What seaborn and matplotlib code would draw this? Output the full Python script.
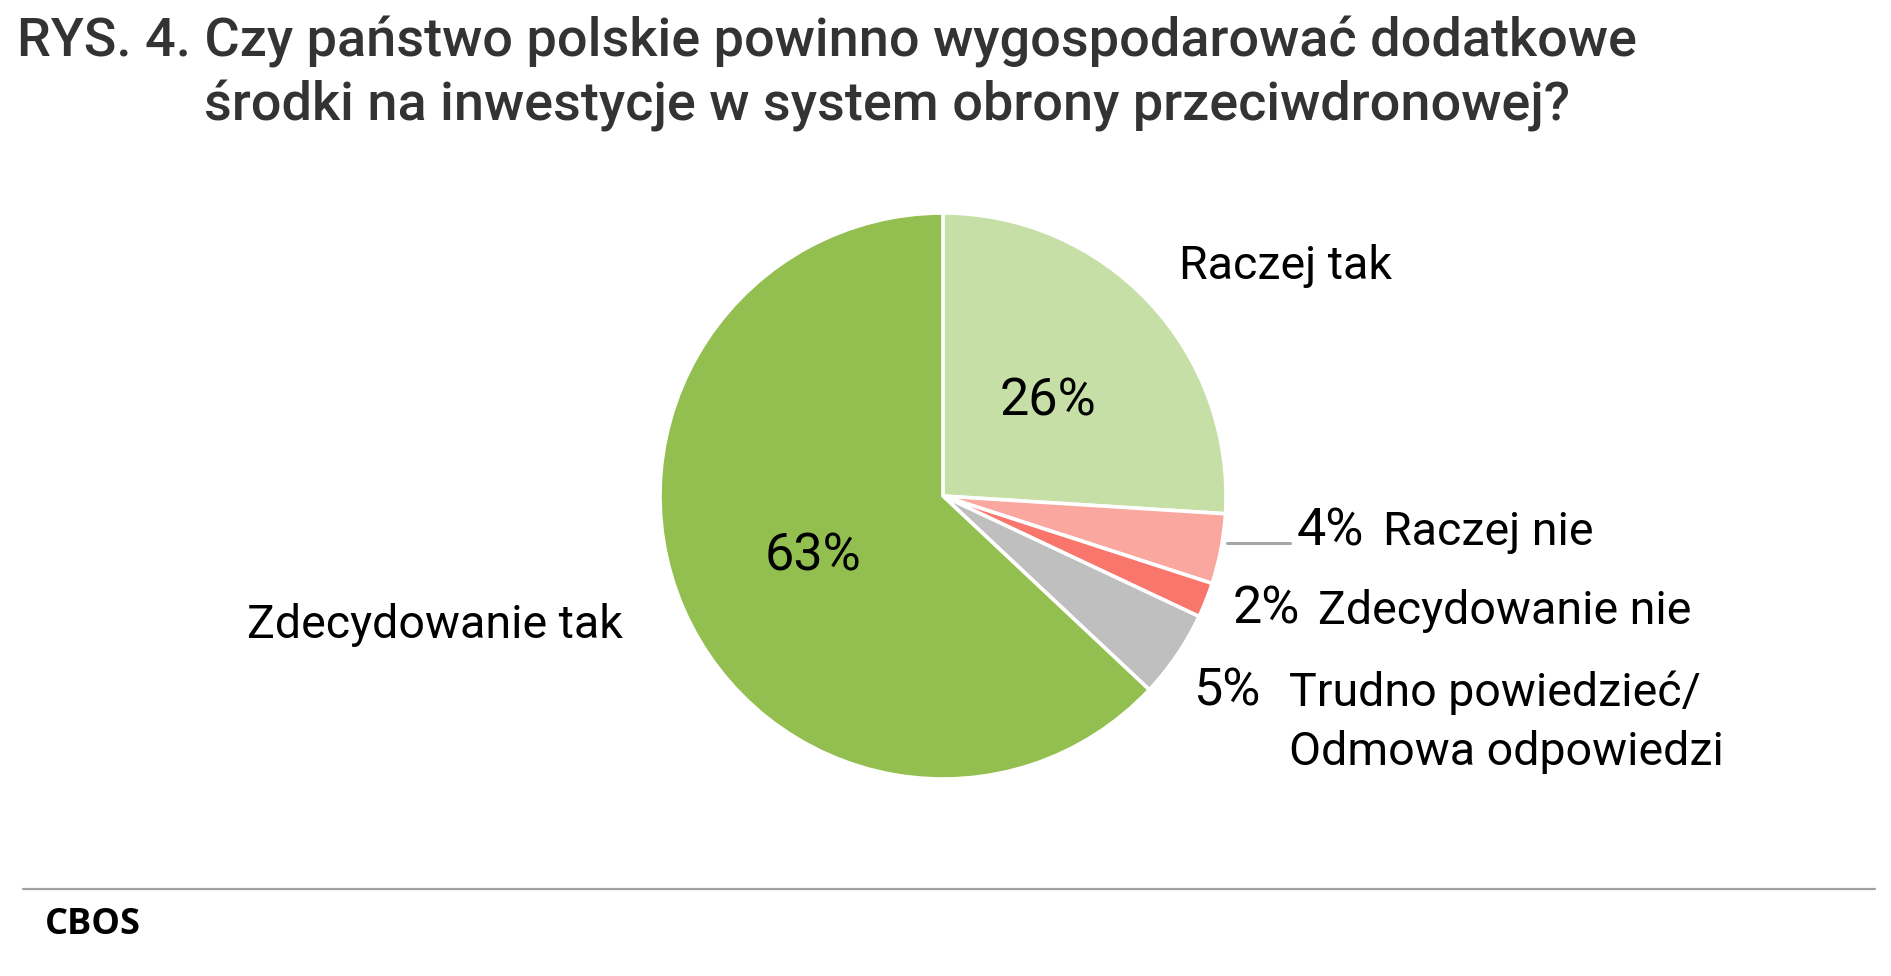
import numpy as np
import matplotlib
matplotlib.use("Agg")
import matplotlib.pyplot as plt
from matplotlib.lines import Line2D
import seaborn as sns

# data (clockwise from 12 o'clock)
categories = ["Raczej tak", "Raczej nie", "Zdecydowanie nie",
              "Trudno powiedzieć/\nOdmowa odpowiedzi", "Zdecydowanie tak"]
values = [26, 4, 2, 5, 63]
colors = ["#C6DFA6", "#FAA7A0", "#F9766C", "#BFBFBF", "#93BF51"]

title_lines = ["RYS. 4. Czy państwo polskie powinno wygospodarować dodatkowe",
               "środki na inwestycje w system obrony przeciwdronowej?"]
source = "CBOS"

W, H = 1891, 976
sns.set_theme(style="white")
plt.rcParams["font.family"] = ["Roboto", "DejaVu Sans"]
plt.rcParams["text.color"] = "black"

fig = plt.figure(figsize=(W / 100, H / 100), dpi=100)


def fx(x):
    return x / W


def fy(y):
    return 1 - y / H


# pie placed by pixel centre / radius
cx, cy, r = 943, 496, 283
ax = fig.add_axes([fx(cx - r), fy(cy + r), 2 * r / W, 2 * r / H])
wedges, _ = ax.pie(values, colors=colors, startangle=90, counterclock=False,
                   radius=1, wedgeprops=dict(edgecolor="white", linewidth=2.6))
ax.set_xlim(-1, 1)
ax.set_ylim(-1, 1)
ax.axis("off")

lab_fs = 33.5
pct_fs = 37.5
# percentages inside the two big slices
for i, dist in ((0, 0.51), (4, 0.5)):
    w = wedges[i]
    th = np.deg2rad((w.theta1 + w.theta2) / 2)
    ax.text(dist * np.cos(th), dist * np.sin(th) - 0.015, f"{values[i]}%",
            ha="center", va="center", fontsize=pct_fs, color="black")

# outside labels
fig.text(fx(1179), fy(279), categories[0], fontsize=lab_fs, va="baseline")
fig.text(fx(247), fy(638), categories[4], fontsize=lab_fs, va="baseline")

fig.text(fx(1297), fy(545), f"{values[1]}%", fontsize=pct_fs, va="baseline")
fig.text(fx(1383), fy(545), categories[1], fontsize=lab_fs, va="baseline")
fig.add_artist(Line2D([fx(1227), fx(1290)], [fy(543), fy(543)],
                      color="#A6A6A6", lw=2.2))

fig.text(fx(1233), fy(624), f"{values[2]}%", fontsize=pct_fs, va="baseline")
fig.text(fx(1318), fy(624), categories[2], fontsize=lab_fs, va="baseline")

fig.text(fx(1193), fy(706), f"{values[3]}%", fontsize=pct_fs, va="baseline")
l1, l2 = categories[3].split("\n")
fig.text(fx(1289), fy(706), l1, fontsize=lab_fs, va="baseline")
fig.text(fx(1289), fy(765), l2, fontsize=lab_fs, va="baseline")

# title
fig.text(fx(17), fy(56), title_lines[0], fontsize=38.9, fontweight="medium",
         color="#333333", va="baseline")
fig.text(fx(204), fy(121), title_lines[1], fontsize=38.9, fontweight="medium",
         color="#333333", va="baseline")

# footer
fig.add_artist(Line2D([fx(23), fx(1875)], [fy(889), fy(889)],
                      color="#A0A0A0", lw=1.6))
fig.text(fx(45), fy(934), source, fontsize=26, fontweight="bold",
         family=["Open Sans", "DejaVu Sans"], va="baseline", color="black")

fig.savefig("out.png", dpi=100)
